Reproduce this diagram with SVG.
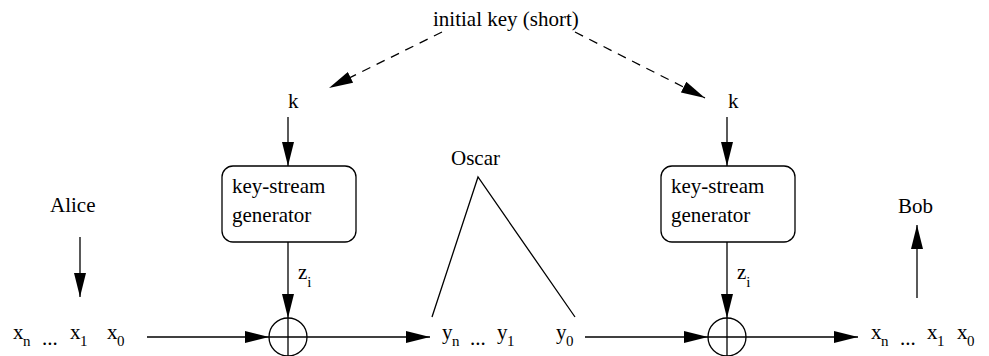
<svg xmlns="http://www.w3.org/2000/svg" width="989" height="356" viewBox="0 0 989 356">
<style>
text{font-family:"Liberation Serif","Times New Roman",serif;font-size:21px;fill:#000}
.sub{font-size:15px}
.ln{stroke:#000;stroke-width:1.3;fill:none}
.dash{stroke:#000;stroke-width:1.3;fill:none;stroke-dasharray:9 7}
.box{fill:#fff;stroke:#000;stroke-width:1.3}
</style>
<defs>
<marker id="ah" viewBox="0 0 24 12" refX="24" refY="6" markerWidth="24" markerHeight="12" markerUnits="userSpaceOnUse" orient="auto">
<path d="M0,0 L24,6 L0,12 Z" fill="#000"/>
</marker>
</defs>
<rect width="989" height="356" fill="#fff"/>
<g id="connectors">
<line class="dash" x1="442" y1="32" x2="329" y2="88" marker-end="url(#ah)"/>
<line class="dash" x1="575" y1="32" x2="705" y2="98" marker-end="url(#ah)"/>
<line class="ln" x1="288" y1="117" x2="288" y2="166" marker-end="url(#ah)"/>
<line class="ln" x1="727" y1="117" x2="727" y2="166" marker-end="url(#ah)"/>
<line class="ln" x1="288" y1="242" x2="288" y2="318" marker-end="url(#ah)"/>
<line class="ln" x1="727" y1="242" x2="727" y2="318" marker-end="url(#ah)"/>
<line class="ln" x1="80" y1="237" x2="80" y2="297" marker-end="url(#ah)"/>
<line class="ln" x1="917" y1="298" x2="917" y2="225" marker-end="url(#ah)"/>
<line class="ln" x1="147" y1="337" x2="269" y2="337" marker-end="url(#ah)"/>
<line class="ln" x1="307" y1="337" x2="430" y2="337" marker-end="url(#ah)"/>
<line class="ln" x1="585" y1="337" x2="708" y2="337" marker-end="url(#ah)"/>
<line class="ln" x1="746" y1="337" x2="858" y2="337" marker-end="url(#ah)"/>
<polyline class="ln" points="432,317 478,177 575,317"/>
</g>
<g id="initial-key"><text x="433" y="26">initial key (short)</text></g>
<g id="k-left"><text x="288" y="108">k</text></g>
<g id="k-right"><text x="728" y="108">k</text></g>
<g id="gen-left">
<rect class="box" x="222" y="166" width="134" height="76" rx="11"/>
<text x="232" y="193">key-stream</text>
<text x="232" y="222">generator</text>
</g>
<g id="gen-right">
<rect class="box" x="661" y="166" width="134" height="76" rx="11"/>
<text x="671" y="193">key-stream</text>
<text x="671" y="222">generator</text>
</g>
<g id="zi-left"><text x="298" y="279">z<tspan class="sub" dy="8">i</tspan></text></g>
<g id="zi-right"><text x="737" y="279">z<tspan class="sub" dy="8">i</tspan></text></g>
<g id="xor-left">
<circle class="ln" cx="288" cy="337" r="19"/>
<line class="ln" x1="269" y1="337" x2="307" y2="337"/>
<line class="ln" x1="288" y1="318" x2="288" y2="356"/>
</g>
<g id="xor-right">
<circle class="ln" cx="727" cy="337" r="19"/>
<line class="ln" x1="708" y1="337" x2="746" y2="337"/>
<line class="ln" x1="727" y1="318" x2="727" y2="356"/>
</g>
<g id="alice"><text x="50" y="212">Alice</text></g>
<g id="bob"><text x="898" y="213">Bob</text></g>
<g id="oscar"><text x="451" y="165">Oscar</text></g>
<g id="plain-left">
<text x="13" y="339">x</text><text class="sub" x="23" y="346">n</text>
<text x="42" y="345">...</text>
<text x="70" y="339">x</text><text class="sub" x="80" y="346">1</text>
<text x="107" y="339">x</text><text class="sub" x="117" y="346">0</text>
</g>
<g id="cipher">
<text x="442" y="339">y</text><text class="sub" x="452" y="346">n</text>
<text x="470" y="345">...</text>
<text x="497" y="339">y</text><text class="sub" x="507" y="346">1</text>
<text x="556" y="339">y</text><text class="sub" x="566" y="346">0</text>
</g>
<g id="plain-right">
<text x="871" y="339">x</text><text class="sub" x="881" y="346">n</text>
<text x="900" y="345">...</text>
<text x="927" y="339">x</text><text class="sub" x="937" y="346">1</text>
<text x="957" y="339">x</text><text class="sub" x="967" y="346">0</text>
</g>
</svg>
